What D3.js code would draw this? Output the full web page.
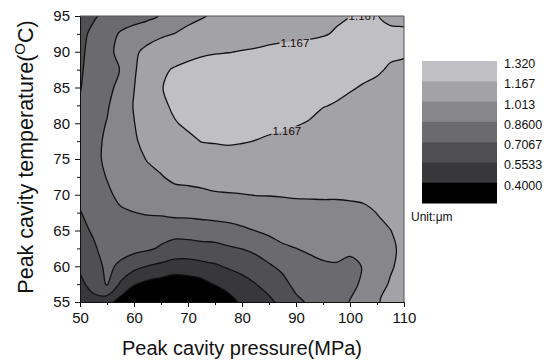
<!DOCTYPE html>
<html>
<head>
<meta charset="utf-8">
<script src="https://cdn.jsdelivr.net/npm/d3@7"></script>
<style>
  body { margin: 0; background: #fff; }
  svg { display: block; font-family: Arial, "Liberation Sans", sans-serif; }
</style>
</head>
<body>
<svg id="chart" width="544" height="363"></svg>
<script>
// Grid axes: peak cavity pressure (MPa) and peak cavity temperature (°C)
const pressure = [50, 52.5, 55, 57.5, 60, 62.5, 65, 67.5, 70, 72.5, 75, 77.5, 80,
                  82.5, 85, 87.5, 90, 92.5, 95, 97.5, 100, 102.5, 105, 107.5, 110];
const temperature = [55, 57.5, 60, 62.5, 65, 67.5, 70, 72.5, 75, 77.5, 80, 82.5, 85,
                     87.5, 90, 92.5, 95];

// Measured response (µm), one column per pressure, listed from 55 °C up to 95 °C
const p50   = [0.49, 0.53, 0.57, 0.62, 0.665, 0.70, 0.735, 0.76, 0.775, 0.77, 0.75, 0.72, 0.70, 0.69, 0.685, 0.68, 0.665];
const p52_5 = [0.52, 0.59, 0.64, 0.685, 0.725, 0.76, 0.79, 0.815, 0.825, 0.825, 0.815, 0.795, 0.775, 0.76, 0.745, 0.728, 0.695];
const p55   = [0.46, 0.72, 0.74, 0.77, 0.79, 0.815, 0.84, 0.865, 0.885, 0.88, 0.865, 0.845, 0.82, 0.80, 0.815, 0.80, 0.733];
const p57_5 = [0.34, 0.53, 0.68, 0.76, 0.80, 0.845, 0.885, 0.91, 0.93, 0.945, 0.945, 0.935, 0.90, 0.865, 0.905, 0.875, 0.78];
const p60   = [0.26, 0.41, 0.60, 0.75, 0.80, 0.858, 0.91, 0.94, 0.975, 1.0, 1.01, 1.02, 1.01, 1.0, 0.995, 0.92, 0.80];
const p62_5 = [0.20, 0.36, 0.55, 0.73, 0.80, 0.87, 0.93, 0.98, 1.02, 1.045, 1.065, 1.08, 1.087, 1.075, 1.04, 0.97, 0.82];
const p65   = [0.17, 0.33, 0.52, 0.69, 0.77, 0.88, 0.95, 1.005, 1.05, 1.085, 1.115, 1.145, 1.162, 1.15, 1.09, 0.99, 0.87];
const p67_5 = [0.12, 0.30, 0.49, 0.65, 0.76, 0.90, 0.97, 1.04, 1.09, 1.125, 1.16, 1.185, 1.195, 1.175, 1.12, 1.015, 0.92];
const p70   = [0.10, 0.32, 0.49, 0.645, 0.77, 0.90, 0.975, 1.05, 1.10, 1.145, 1.185, 1.21, 1.22, 1.19, 1.14, 1.06, 0.96];
const p72_5 = [0.10, 0.35, 0.51, 0.66, 0.78, 0.91, 0.985, 1.06, 1.115, 1.17, 1.20, 1.225, 1.235, 1.21, 1.15, 1.08, 1.0];
const p75   = [0.20, 0.41, 0.535, 0.665, 0.79, 0.92, 1.0, 1.07, 1.12, 1.175, 1.21, 1.235, 1.245, 1.225, 1.158, 1.09, 1.035];
const p77_5 = [0.34, 0.46, 0.57, 0.69, 0.81, 0.925, 1.005, 1.07, 1.125, 1.18, 1.215, 1.24, 1.25, 1.235, 1.163, 1.095, 1.045];
const p80   = [0.43, 0.50, 0.60, 0.71, 0.835, 0.935, 1.01, 1.065, 1.115, 1.175, 1.21, 1.235, 1.25, 1.24, 1.172, 1.105, 1.06];
const p82_5 = [0.47, 0.55, 0.64, 0.74, 0.862, 0.95, 1.016, 1.06, 1.105, 1.165, 1.205, 1.23, 1.245, 1.245, 1.18, 1.115, 1.075];
const p85   = [0.52, 0.61, 0.69, 0.79, 0.89, 0.96, 1.017, 1.055, 1.095, 1.155, 1.19, 1.225, 1.24, 1.24, 1.19, 1.13, 1.09];
const p87_5 = [0.60, 0.66, 0.74, 0.84, 0.91, 0.965, 1.02, 1.05, 1.085, 1.145, 1.185, 1.215, 1.235, 1.235, 1.195, 1.14, 1.10];
const p90   = [0.67, 0.75, 0.80, 0.859, 0.92, 0.97, 1.025, 1.05, 1.08, 1.13, 1.175, 1.21, 1.23, 1.235, 1.2, 1.145, 1.115];
const p92_5 = [0.73, 0.78, 0.82, 0.88, 0.93, 0.975, 1.025, 1.05, 1.075, 1.115, 1.16, 1.195, 1.22, 1.235, 1.21, 1.148, 1.13];
const p95   = [0.77, 0.81, 0.845, 0.89, 0.935, 0.98, 1.025, 1.05, 1.07, 1.10, 1.135, 1.172, 1.20, 1.225, 1.21, 1.16, 1.145];
const p97_5 = [0.79, 0.825, 0.85, 0.895, 0.94, 0.98, 1.025, 1.05, 1.07, 1.095, 1.125, 1.16, 1.19, 1.215, 1.22, 1.175, 1.155];
const p100  = [0.865, 0.83, 0.835, 0.88, 0.935, 0.98, 1.03, 1.05, 1.065, 1.09, 1.115, 1.145, 1.175, 1.20, 1.215, 1.19, 1.166];
const p102_5= [0.92, 0.88, 0.865, 0.90, 0.945, 0.99, 1.035, 1.05, 1.06, 1.08, 1.105, 1.13, 1.16, 1.19, 1.21, 1.215, 1.19];
const p105  = [1.005, 0.985, 0.975, 0.98, 0.99, 1.015, 1.04, 1.055, 1.06, 1.075, 1.095, 1.115, 1.145, 1.18, 1.2, 1.2, 1.17];
const p107_5= [1.04, 1.02, 1.005, 1.0, 1.012, 1.03, 1.045, 1.055, 1.06, 1.07, 1.085, 1.10, 1.125, 1.155, 1.185, 1.19, 1.14];
const p110  = [1.06, 1.045, 1.035, 1.03, 1.035, 1.045, 1.05, 1.058, 1.063, 1.07, 1.08, 1.095, 1.115, 1.145, 1.18, 1.19, 1.13];

// Contour levels and fill shades (lowest band first)
const levels = [0.4, 0.5533, 0.7067, 0.86, 1.013, 1.167, 1.32];
const levelLabels = ["0.4000", "0.5533", "0.7067", "0.8600", "1.013", "1.167", "1.320"];
const shades = ["#000000", "#38383b", "#505053", "#6b6b6f", "#87878b", "#a3a3a7", "#c0c0c4"];

// Contour line labels (value, pressure, temperature)
const lineLabels = [
  { text: "1.167", p: 89.8, t: 91.2 },
  { text: "1.167", p: 88.3, t: 78.9 },
  { text: "1.167", p: 102.4, t: 95.0 }
];

const xTicks = [50, 60, 70, 80, 90, 100, 110];
const xMinor = [55, 65, 75, 85, 95, 105];
const yTicks = [55, 60, 65, 70, 75, 80, 85, 90, 95];
const yMinor = [57.5, 62.5, 67.5, 72.5, 77.5, 82.5, 87.5, 92.5];

const columns = [p50, p52_5, p55, p57_5, p60, p62_5, p65, p67_5, p70, p72_5, p75, p77_5, p80,
                 p82_5, p85, p87_5, p90, p92_5, p95, p97_5, p100, p102_5, p105, p107_5, p110];

const svg = d3.select("#chart");
const plot = { left: 80, right: 404, top: 16, bottom: 302 };

const x = d3.scaleLinear().domain([50, 110]).range([plot.left, plot.right]);
const y = d3.scaleLinear().domain([55, 95]).range([plot.bottom, plot.top]);

// grid index -> data coordinate (d3.contours places value i at i + 0.5)
const nx = pressure.length, ny = temperature.length;
const gx = d3.scaleLinear().domain([0.5, nx - 0.5]).range([pressure[0], pressure[nx - 1]]);
const gy = d3.scaleLinear().domain([0.5, ny - 0.5]).range([temperature[0], temperature[ny - 1]]);

const values = [];
for (let j = 0; j < ny; j++) for (let i = 0; i < nx; i++) values.push(columns[i][j]);

const contours = d3.contours().size([nx, ny]).thresholds(levels)(values);

const curve = d3.line().curve(d3.curveCatmullRomClosed.alpha(0.5));
function ringPath(ring) {
  const pts = ring.slice(0, -1).map(p => [x(gx(p[0])), y(gy(p[1]))]);
  return curve(pts);
}
function geomPath(g) {
  return g.coordinates.map(poly => poly.map(ringPath).join("")).join("");
}

const defs = svg.append("defs");
defs.append("clipPath").attr("id", "plotClip")
  .append("rect")
  .attr("x", plot.left).attr("y", plot.top)
  .attr("width", plot.right - plot.left).attr("height", plot.bottom - plot.top);

const area = svg.append("g").attr("clip-path", "url(#plotClip)");

// lowest band
area.append("rect")
  .attr("x", plot.left).attr("y", plot.top)
  .attr("width", plot.right - plot.left).attr("height", plot.bottom - plot.top)
  .attr("fill", shades[0]);

area.append("g").selectAll("path")
  .data(contours)
  .join("path")
  .attr("d", geomPath)
  .attr("fill", (d, i) => shades[i + 1] || "#dcdce0")
  .attr("fill-rule", "evenodd")
  .attr("stroke", "none");

// labels on the 1.167 line
const labelG = area.append("g");
const labelNodes = labelG.selectAll("text")
  .data(lineLabels)
  .join("text")
  .attr("x", d => x(d.p))
  .attr("y", d => y(d.t))
  .attr("text-anchor", "middle")
  .attr("dominant-baseline", "central")
  .attr("font-size", 11.5)
  .attr("fill", "#1a0a0a")
  .text(d => d.text);

// mask out contour lines beneath the labels
const mask = defs.append("mask").attr("id", "lineMask").attr("maskUnits", "userSpaceOnUse")
  .attr("x", 0).attr("y", 0).attr("width", 544).attr("height", 363);
mask.append("rect").attr("x", 0).attr("y", 0).attr("width", 544).attr("height", 363).attr("fill", "#fff");
labelNodes.each(function () {
  const b = this.getBBox();
  mask.append("rect")
    .attr("x", b.x - 1).attr("y", b.y + 1)
    .attr("width", b.width + 2).attr("height", b.height - 2)
    .attr("fill", "#000");
});

area.insert("g", () => labelG.node())
  .attr("mask", "url(#lineMask)")
  .selectAll("path")
  .data(contours)
  .join("path")
  .attr("d", geomPath)
  .attr("fill", "none")
  .attr("stroke", "#111")
  .attr("stroke-width", 1.3)
  .attr("stroke-linejoin", "round");

// frame
svg.append("path")
  .attr("d", `M${plot.left},${plot.top}H${plot.right}V${plot.bottom}`)
  .attr("fill", "none").attr("stroke", "#555").attr("stroke-width", 1);

// axes
const fontAxis = 15;
svg.append("g").attr("transform", `translate(0,${plot.bottom})`)
  .call(d3.axisBottom(x).tickValues(xTicks).tickSize(5).tickSizeOuter(0).tickPadding(5));
svg.append("g").attr("transform", `translate(0,${plot.bottom})`)
  .call(d3.axisBottom(x).tickValues(xMinor).tickSize(3).tickSizeOuter(0).tickFormat(""))
  .select(".domain").remove();
svg.append("g").attr("transform", `translate(${plot.left},0)`)
  .call(d3.axisLeft(y).tickValues(yTicks).tickSize(5).tickSizeOuter(0).tickPadding(5));
svg.append("g").attr("transform", `translate(${plot.left},0)`)
  .call(d3.axisLeft(y).tickValues(yMinor).tickSize(3).tickSizeOuter(0).tickFormat(""))
  .select(".domain").remove();

svg.selectAll(".tick text").attr("font-size", fontAxis).attr("font-family", "Arial, 'Liberation Sans', sans-serif").attr("fill", "#111");
svg.selectAll(".domain, .tick line").attr("stroke", "#111");

// axis titles
svg.append("text")
  .attr("x", (plot.left + plot.right) / 2)
  .attr("y", 355)
  .attr("text-anchor", "middle")
  .attr("font-size", 20)
  .attr("fill", "#111")
  .text("Peak cavity pressure(MPa)");

const yTitle = svg.append("text")
  .attr("transform", `translate(33,157) rotate(-90)`)
  .attr("text-anchor", "middle")
  .attr("font-size", 21.5)
  .attr("fill", "#111");
yTitle.append("tspan").text("Peak cavity temperature(");
yTitle.append("tspan").attr("font-size", 15).attr("dy", -8).text("O");
yTitle.append("tspan").attr("dy", 8).text("C)");

// legend
const legendBand = d3.scaleBand().domain(d3.range(levels.length)).range([61, 203]).paddingInner(0);
const legend = svg.append("g");
legend.selectAll("rect")
  .data(d3.range(levels.length))
  .join("rect")
  .attr("x", 422).attr("width", 75)
  .attr("y", i => legendBand(i))
  .attr("height", legendBand.bandwidth() + 0.5)
  .attr("fill", i => shades[levels.length - 1 - i]);
legend.selectAll("text")
  .data(d3.range(levels.length))
  .join("text")
  .attr("x", 504)
  .attr("y", i => legendBand(i) + 3)
  .attr("dominant-baseline", "central")
  .attr("font-size", 12.5)
  .attr("fill", "#111")
  .text(i => levelLabels[levels.length - 1 - i]);

svg.append("text")
  .attr("x", 411)
  .attr("y", 217)
  .attr("dominant-baseline", "central")
  .attr("font-size", 12)
  .attr("fill", "#111")
  .text("Unit:\u03bcm");
</script>
</body>
</html>
